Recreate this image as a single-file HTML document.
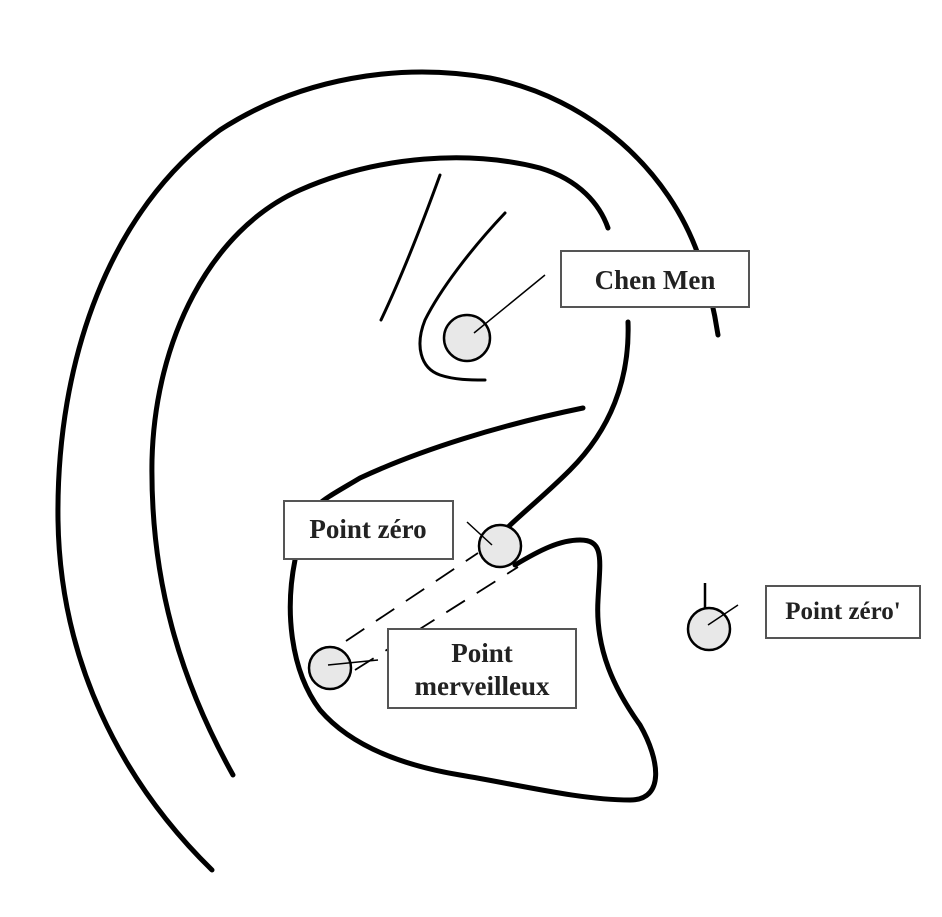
<!DOCTYPE html>
<html><head><style>
html,body{margin:0;padding:0;background:#fff;}
svg{display:block}
text{font-family:"Liberation Serif",serif;font-size:27px;font-weight:bold;fill:#222;}
</style></head><body>
<svg width="942" height="917" viewBox="0 0 942 917" xmlns="http://www.w3.org/2000/svg">
<g fill="none" stroke="#000" stroke-width="5" stroke-linecap="round" stroke-linejoin="round">
<path d="M212,870 C120,780 60,660 58,520 C56,360 110,210 220,130 C300,78 400,62 490,78 C590,98 670,170 700,260 C710,290 715,315 718,335"/>
<path d="M233,775 C180,680 150,580 152,460 C155,340 210,230 300,190 C380,155 470,150 540,168 C580,180 600,205 608,228"/>
<path d="M628,322 C630,380 610,430 570,470 C545,495 520,515 505,530"/>
<path d="M583,408 C500,425 420,450 360,478 C340,490 325,498 318,505"/>
<path d="M295,560 C285,610 290,670 320,710 C350,745 400,765 460,775 C520,785 580,800 630,800 C665,800 660,760 640,725 C615,690 595,650 598,600 C600,560 605,540 580,540 C560,540 540,550 515,565"/>
</g>
<g fill="none" stroke="#000" stroke-width="3" stroke-linecap="round">
<path d="M440,175 C420,230 400,280 381,320"/>
<path d="M505,213 C470,250 440,290 425,320 C415,345 420,368 440,375 C455,380 470,380 485,380"/>
</g>
<g fill="none" stroke="#000" stroke-width="1.8" stroke-dasharray="22,14">
<line x1="346" y1="641" x2="478" y2="553"/>
<line x1="355" y1="670" x2="518" y2="567"/>
</g>
<g fill="#e8e8e8" stroke="#000" stroke-width="2.5">
<circle cx="467" cy="338" r="23"/>
<circle cx="500" cy="546" r="21"/>
<circle cx="330" cy="668" r="21"/>
<circle cx="709" cy="629" r="21"/>
</g>
<g stroke="#000" stroke-width="1.5">
<line x1="474" y1="333" x2="545" y2="275"/>
<line x1="467" y1="522" x2="492" y2="545"/>
<line x1="328" y1="665" x2="378" y2="660"/>
<line x1="708" y1="625" x2="738" y2="605"/>
<line x1="705" y1="583" x2="705" y2="608" stroke-width="2.5"/>
</g>
<g fill="#fff" stroke="#555" stroke-width="2">
<rect x="561" y="251" width="188" height="56"/>
<rect x="284" y="501" width="169" height="58"/>
<rect x="388" y="629" width="188" height="79"/>
<rect x="766" y="586" width="154" height="52"/>
</g>
<text x="655" y="289" text-anchor="middle">Chen Men</text>
<text x="368" y="538" text-anchor="middle">Point zéro</text>
<text x="482" y="662" text-anchor="middle">Point</text>
<text x="482" y="695" text-anchor="middle">merveilleux</text>
<text x="843" y="619" text-anchor="middle" style="font-size:25px">Point zéro'</text>
</svg>
</body></html>
